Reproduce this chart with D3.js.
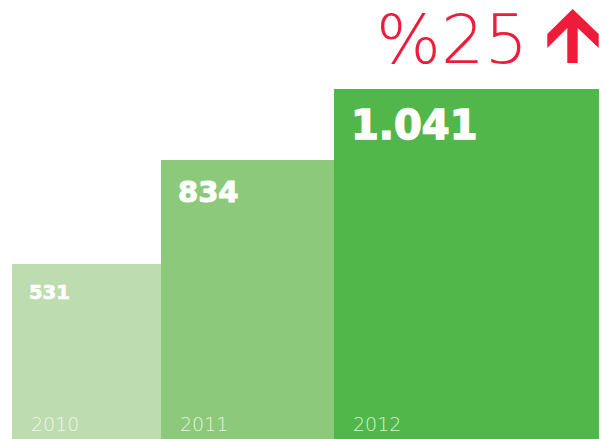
<!DOCTYPE html>
<html>
<head>
<meta charset="utf-8">
<script src="https://cdn.jsdelivr.net/npm/d3@7"></script>
<style>
  html, body { margin: 0; padding: 0; background: #fff; }
  svg { display: block; }
</style>
</head>
<body>
<div id="chart"></div>
<script>
// data
var years = ["2010", "2011", "2012"]
var values = [531, 834, 1041]
var valueLabels = ["531", "834", "1.041"]
var growthLabel = "%25"

var width = 607, height = 439

var svg = d3.select("#chart").append("svg")
    .attr("width", width)
    .attr("height", height)

// bars grow from the bottom edge, widths differ per year
var y = d3.scaleLinear().domain([0, d3.max(values)]).range([446.2, 89])
var left = d3.scaleOrdinal().domain(years).range([12, 161, 334])
var right = d3.scaleOrdinal().domain(years).range([161, 334, 599])
var color = d3.scaleOrdinal().domain(years).range(["#bddcaf", "#8cc97b", "#52b74b"])
var size = d3.scaleOrdinal().domain(years).range([19.5, 29, 40])

var rows = years.map((yr, i) => ({ year: yr, value: values[i], label: valueLabels[i] }))

var bar = svg.selectAll("g.bar").data(rows).enter().append("g")
    .attr("class", "bar")

bar.append("rect")
    .attr("x", d => left(d.year))
    .attr("y", d => y(d.value))
    .attr("width", d => right(d.year) - left(d.year))
    .attr("height", d => height - y(d.value))
    .attr("fill", d => color(d.year))

bar.append("text")
    .attr("x", d => left(d.year) + 17)
    .attr("y", d => y(d.value) + 20.5 + 0.729 * size(d.year))
    .attr("fill", "#fff")
    .attr("stroke", "#fff")
    .attr("stroke-width", d => size(d.year) / 28)
    .style("font-family", "'DejaVu Sans', sans-serif")
    .style("font-weight", "bold")
    .style("font-size", d => size(d.year) + "px")
    .text(d => d.label)

bar.append("text")
    .attr("x", d => left(d.year) + 19)
    .attr("y", 431)
    .attr("fill", "#fff")
    .attr("fill-opacity", 0.8)
    .style("font-family", "'DejaVu Sans', sans-serif")
    .style("font-weight", 200)
    .style("font-size", "19px")
    .text(d => d.year)

// growth note, top right
var red = "#ee1b3b"
svg.append("text")
    .attr("x", 376)
    .attr("y", 63)
    .attr("fill", red)
    .attr("textLength", 152)
    .attr("lengthAdjust", "spacingAndGlyphs")
    .style("font-family", "'DejaVu Sans', sans-serif")
    .style("font-weight", 200)
    .style("font-size", "67px")
    .text(growthLabel)

svg.append("path")
    .attr("transform", "translate(572.7,9)")
    .attr("fill", red)
    .attr("d", "M0,0 L26,25 L26,39 L5,19 L5,54 L-5.4,54 L-5.4,19 L-25.4,39 L-25.4,25 Z")
</script>
</body>
</html>
